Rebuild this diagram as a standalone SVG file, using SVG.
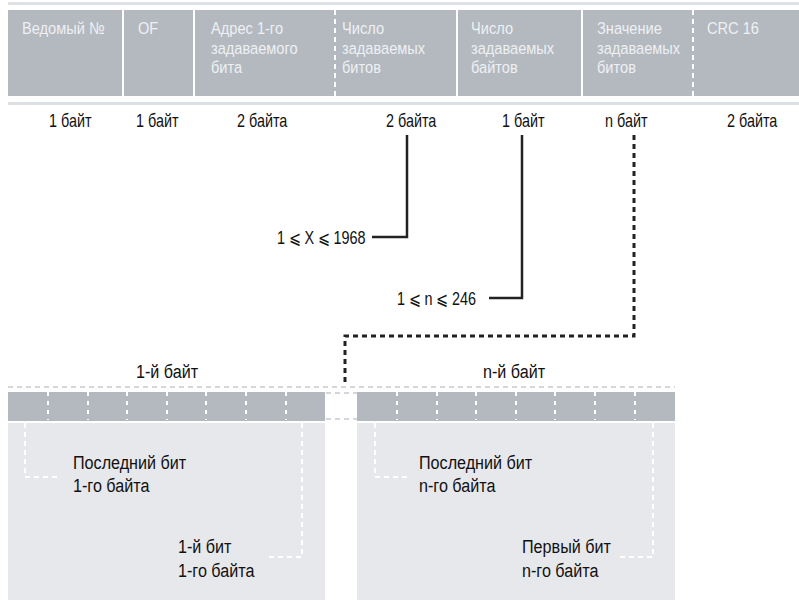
<svg xmlns="http://www.w3.org/2000/svg" width="799" height="600" viewBox="0 0 799 600">
<style>
text{font-family:"Liberation Sans",Arial,sans-serif}
.h{font-size:17px;fill:#eef0f3}
.t{font-size:18px;fill:#111}
.b{font-size:19px;fill:#111}
.sep{stroke:#fff;stroke-width:2}
.dsep{stroke:#fff;stroke-width:2;stroke-dasharray:5 4}
.bitsep{stroke:#fff;stroke-width:2;stroke-dasharray:4 5}
.wd{stroke:#fff;stroke-width:2;stroke-dasharray:5 4;fill:none}
.gd{stroke:#d3d6db;stroke-width:2;stroke-dasharray:5 4;fill:none}
.con{stroke:#222;stroke-width:2.5;fill:none}
.cond{stroke:#222;stroke-width:3;fill:none;stroke-dasharray:5 4}
</style>
<g id="frame">
<rect x="8" y="2" width="791" height="3" fill="#dde0e4"/>
<rect x="8" y="10" width="791" height="86" fill="#b4b9c0"/>
<rect x="8" y="102" width="791" height="3" fill="#dde0e4"/>
<line class="sep" x1="123" y1="10" x2="123" y2="96"/>
<line class="sep" x1="194" y1="10" x2="194" y2="96"/>
<line class="dsep" x1="335" y1="10" x2="335" y2="96"/>
<line class="sep" x1="457" y1="10" x2="457" y2="96"/>
<line class="sep" x1="582" y1="10" x2="582" y2="96"/>
<line class="dsep" x1="693" y1="10" x2="693" y2="96"/>
</g>
<g id="f1"><text class="h" transform="translate(22 34) scale(.86 1)">Ведомый №</text><text class="t" transform="translate(49 127) scale(.8 1)">1 байт</text></g>
<g id="f2"><text class="h" transform="translate(138 34) scale(.86 1)">OF</text><text class="t" transform="translate(136 127) scale(.8 1)">1 байт</text></g>
<g id="f3"><text class="h" transform="translate(211 34) scale(.86 1)">Адрес 1-го</text><text class="h" transform="translate(211 54) scale(.86 1)">задаваемого</text><text class="h" transform="translate(211 73) scale(.86 1)">бита</text><text class="t" transform="translate(237 127) scale(.8 1)">2 байта</text></g>
<g id="f4"><text class="h" transform="translate(342 34) scale(.86 1)">Число</text><text class="h" transform="translate(342 54) scale(.86 1)">задаваемых</text><text class="h" transform="translate(342 73) scale(.86 1)">битов</text><text class="t" transform="translate(386 127) scale(.8 1)">2 байта</text></g>
<g id="f5"><text class="h" transform="translate(471 34) scale(.86 1)">Число</text><text class="h" transform="translate(471 54) scale(.86 1)">задаваемых</text><text class="h" transform="translate(471 73) scale(.86 1)">байтов</text><text class="t" transform="translate(502 127) scale(.8 1)">1 байт</text></g>
<g id="f6"><text class="h" transform="translate(597 34) scale(.86 1)">Значение</text><text class="h" transform="translate(597 54) scale(.86 1)">задаваемых</text><text class="h" transform="translate(597 73) scale(.86 1)">битов</text><text class="t" transform="translate(605 127) scale(.8 1)">n байт</text></g>
<g id="f7"><text class="h" transform="translate(707 34) scale(.86 1)">CRC 16</text><text class="t" transform="translate(727 127) scale(.8 1)">2 байта</text></g>
<g id="connectors">
<path class="con" d="M407 135V237H372"/>
<path class="con" d="M522 135V298H489"/>
<path class="cond" d="M634 135V336H345V384"/>
</g>
<g id="labels">
<text class="t" transform="translate(277 244) scale(.8 1)">1 ⩽ X ⩽ 1968</text>
<text class="t" transform="translate(397 305) scale(.8 1)">1 ⩽ n ⩽ 246</text>
</g>
<g id="byte1">
<text class="b" transform="translate(167 378) scale(.85 1)" text-anchor="middle">1-й байт</text>
<rect x="8" y="392" width="317" height="29" fill="#b4b9c0"/>
<rect x="8" y="423" width="317" height="177" fill="#e7e8ec"/>
<line class="bitsep" x1="48" y1="392" x2="48" y2="420"/>
<line class="bitsep" x1="88" y1="392" x2="88" y2="420"/>
<line class="bitsep" x1="127" y1="392" x2="127" y2="420"/>
<line class="bitsep" x1="167" y1="392" x2="167" y2="420"/>
<line class="bitsep" x1="206" y1="392" x2="206" y2="420"/>
<line class="bitsep" x1="246" y1="392" x2="246" y2="420"/>
<line class="bitsep" x1="286" y1="392" x2="286" y2="420"/>
<path class="wd" d="M25 423V477H60"/>
<path class="wd" d="M302 423V557H268"/>
<text class="b" transform="translate(73 469) scale(.85 1)">Последний бит</text>
<text class="b" transform="translate(73 492) scale(.85 1)">1-го байта</text>
<text class="b" transform="translate(178 553) scale(.85 1)">1-й бит</text>
<text class="b" transform="translate(178 577) scale(.85 1)">1-го байта</text>
</g>
<g id="gap">
<line class="gd" x1="8" y1="387" x2="675" y2="387"/>
<path class="gd" d="M326 393H357M326 419H357"/>
</g>
<g id="byteN">
<text class="b" transform="translate(514 378) scale(.85 1)" text-anchor="middle">n-й байт</text>
<rect x="357" y="392" width="318" height="29" fill="#b4b9c0"/>
<rect x="357" y="423" width="318" height="177" fill="#e7e8ec"/>
<line class="bitsep" x1="397" y1="392" x2="397" y2="420"/>
<line class="bitsep" x1="437" y1="392" x2="437" y2="420"/>
<line class="bitsep" x1="476" y1="392" x2="476" y2="420"/>
<line class="bitsep" x1="516" y1="392" x2="516" y2="420"/>
<line class="bitsep" x1="555" y1="392" x2="555" y2="420"/>
<line class="bitsep" x1="595" y1="392" x2="595" y2="420"/>
<line class="bitsep" x1="635" y1="392" x2="635" y2="420"/>
<path class="wd" d="M375 423V477H410"/>
<path class="wd" d="M653 423V557H618"/>
<text class="b" transform="translate(419 469) scale(.85 1)">Последний бит</text>
<text class="b" transform="translate(419 492) scale(.85 1)">n-го байта</text>
<text class="b" transform="translate(522 553) scale(.85 1)">Первый бит</text>
<text class="b" transform="translate(522 577) scale(.85 1)">n-го байта</text>
</g>
</svg>
